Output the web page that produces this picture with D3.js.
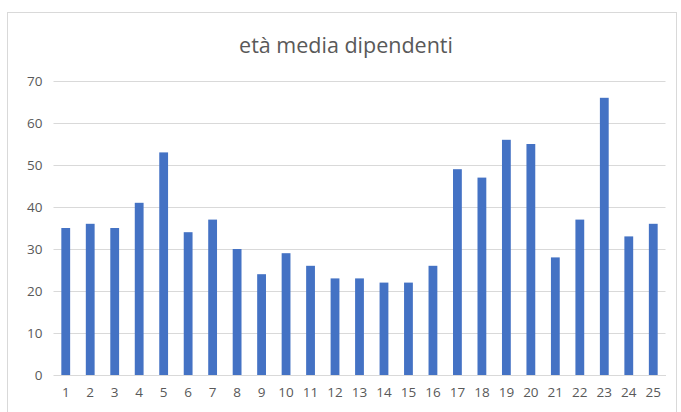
<!DOCTYPE html>
<html><head><meta charset="utf-8">
<script src="https://cdn.jsdelivr.net/npm/d3@7"></script>
<style>body{margin:0;background:#fff;}svg{display:block;}</style>
</head><body>
<script>
const categories = ["1","2","3","4","5","6","7","8","9","10","11","12","13","14","15","16","17","18","19","20","21","22","23","24","25"];
const values = [35,36,35,41,53,34,37,30,24,29,26,23,23,22,22,26,49,47,56,55,28,37,66,33,36];
const yTicks = [0,10,20,30,40,50,60,70];
const title = "età media dipendenti";

const W = 681, H = 412;
const svg = d3.select("body").append("svg").attr("width", W).attr("height", H);
svg.append("rect").attr("x", 7.5).attr("y", 12.5).attr("width", 669).attr("height", 420)
  .attr("fill", "#fff").attr("stroke", "#d9d9d9");

const x = d3.scaleBand().domain(categories).range([53.5, 665.5]).paddingInner(0.64).paddingOuter(0.32);
const y = d3.scaleLinear().domain([0, 70]).range([375, 81]);

const font = "'Open Sans', 'Liberation Sans', sans-serif";
svg.append("text").attr("x", 346).attr("y", 53).attr("text-anchor", "middle")
  .attr("font-family", font).attr("font-size", 21.5).attr("fill", "#595959").text(title);

const yAxis = svg.append("g").attr("transform", "translate(53.5,0)")
  .call(d3.axisLeft(y).tickValues(yTicks).tickSize(-612).tickPadding(11));
yAxis.select(".domain").remove();
yAxis.selectAll(".tick line").attr("stroke", "#d9d9d9");
yAxis.selectAll(".tick text").attr("font-family", font).attr("font-size", 13.5).attr("fill", "#595959");

svg.selectAll("rect.bar").data(values).enter().append("rect").attr("class", "bar")
  .attr("x", (d, i) => x(categories[i])).attr("width", x.bandwidth())
  .attr("y", d => y(d)).attr("height", d => y(0) - y(d)).attr("fill", "#4472C4");

const xAxis = svg.append("g").attr("transform", "translate(0,375)")
  .call(d3.axisBottom(x).tickSize(0).tickPadding(12));
xAxis.select(".domain").attr("stroke", "#d9d9d9");
xAxis.selectAll(".tick text").attr("font-family", font).attr("font-size", 13.5).attr("fill", "#595959");
</script>
</body></html>
